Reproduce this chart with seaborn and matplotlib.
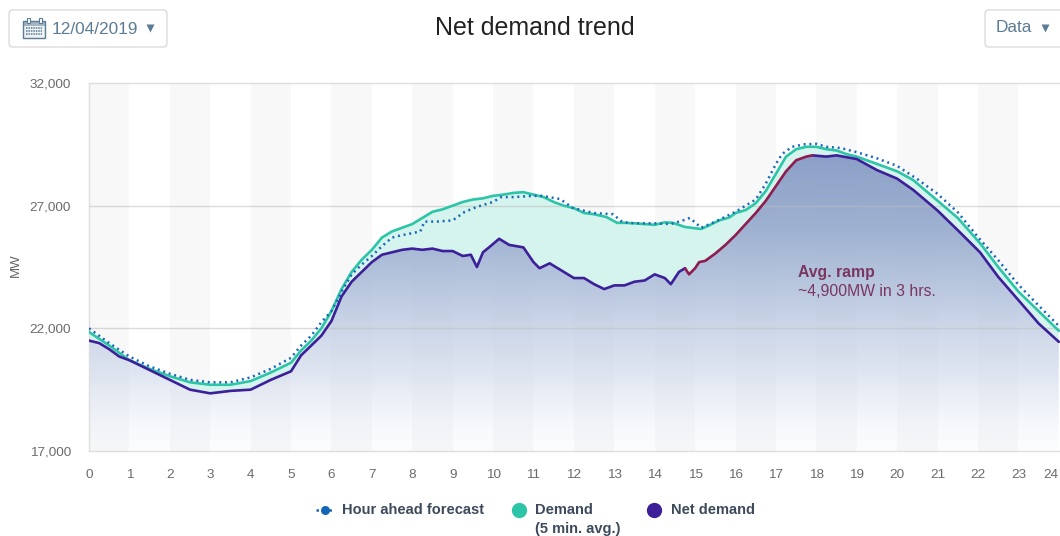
import numpy as np
import matplotlib
matplotlib.use("Agg")
import matplotlib.pyplot as plt
import seaborn as sns
from matplotlib.colors import LinearSegmentedColormap
from matplotlib.lines import Line2D
from matplotlib.patches import FancyBboxPatch, Polygon, Rectangle

date_label = "12/04/2019"
title = "Net demand trend"
hours = list(range(25))
y_ticks = [17000, 22000, 27000, 32000]

demand_x = [0,.5,1,1.5,2,2.5,3,3.5,4,4.5,5,5.25,5.5,5.75,6,6.25,6.5,6.75,7,7.25,7.5,7.75,8,8.25,8.5,8.75,9,9.25,9.5,9.75,10,10.25,10.5,10.75,11,11.25,11.5,11.75,12,12.25,12.5,12.8,13.07,13.25,13.5,13.75,14,14.25,14.45,14.75,15.15,15.35,15.6,15.85,16,16.25,16.5,16.75,17,17.25,17.5,17.75,18,18.25,18.5,18.75,19,19.5,20,20.4,21,21.5,22.05,22.5,23,23.5,24]
demand_y = [21850,21300,20700,20350,20050,19800,19700,19700,19850,20200,20600,21100,21500,22000,22700,23600,24300,24800,25200,25700,25950,26100,26250,26500,26750,26850,27000,27150,27250,27300,27400,27450,27520,27550,27450,27350,27150,27000,26900,26700,26650,26540,26300,26300,26280,26250,26220,26320,26300,26130,26050,26200,26400,26520,26700,26820,27100,27600,28300,29000,29300,29400,29400,29300,29250,29100,29000,28700,28400,28040,27200,26500,25470,24500,23500,22700,21900]

forecast_x = [0,.5,1,1.5,2,2.5,3,3.5,4,4.5,5,5.25,5.5,5.75,6,6.25,6.5,6.75,7,7.25,7.5,7.75,8,8.2,8.3,8.6,9,9.3,9.6,10,10.2,10.5,11,11.2,11.66,11.98,12.5,12.97,13.2,13.5,14,14.4,14.7,14.87,15.15,15.5,16,16.5,16.75,17,17.15,17.4,17.7,18,18.25,18.6,19,19.5,20,20.5,21,21.5,22,22.5,23,23.5,24]
forecast_y = [22000,21400,20850,20450,20150,19900,19800,19800,20000,20350,20800,21300,21700,22250,22700,23500,24200,24600,24950,25350,25700,25800,25880,25950,26350,26350,26400,26750,26950,27150,27350,27350,27400,27400,27270,26900,26700,26650,26330,26280,26280,26250,26400,26500,26100,26350,26750,27250,27900,28700,29100,29400,29500,29520,29400,29350,29180,28930,28620,28080,27480,26730,25720,24780,23780,22930,22100]

net_x = [0,.25,.5,.75,1,1.5,2,2.5,3,3.5,4,4.25,4.5,5,5.25,5.5,5.75,6,6.25,6.5,6.75,7,7.25,7.5,7.75,8,8.25,8.5,8.75,9,9.25,9.45,9.6,9.75,9.9,10.15,10.4,10.75,11,11.15,11.4,11.75,12,12.25,12.5,12.75,13,13.25,13.5,13.75,14,14.25,14.4,14.6,14.75]
net_y = [21500,21400,21150,20850,20700,20300,19900,19500,19350,19450,19500,19700,19900,20250,20900,21300,21700,22300,23300,23900,24300,24700,25000,25100,25200,25250,25200,25250,25150,25150,24950,25000,24500,25100,25300,25650,25400,25300,24700,24450,24650,24300,24050,24050,23800,23600,23750,23750,23900,23950,24200,24050,23800,24300,24450]

ramp_x = [14.75,14.85,15,15.1,15.25,15.5,15.75,16,16.25,16.5,16.75,17,17.25,17.5,17.75,17.9]
ramp_y = [24450,24200,24450,24700,24750,25050,25400,25800,26250,26700,27200,27800,28400,28850,29000,29050]

tail_x = [17.9,18.25,18.5,19,19.5,20,20.4,21,21.5,22.05,22.5,23,23.5,24]
tail_y = [29050,29000,29050,28900,28450,28100,27640,26800,26000,25100,24100,23150,22200,21450]

W, H = 1060, 536
sns.set_theme(style="white")
plt.rcParams["font.family"] = ["Liberation Sans", "DejaVu Sans"]

fig = plt.figure(figsize=(W / 100, H / 100), dpi=100)
ax = fig.add_axes([89 / W, 1 - 451 / H, (1060 - 89) / W, (451 - 83) / H])
ax.set_xlim(0, 24.03)
ax.set_ylim(17000, 32000)

def fx(x):
    return x / W

def fy(y):
    return 1 - y / H

# alternate hour bands
for h in hours[:-1:2]:
    ax.axvspan(h, h + 1, color="#f8f8f8", lw=0, zorder=0)

# band between demand and net demand
net_all_x = net_x + ramp_x[1:] + tail_x[1:]
net_all_y = net_y + ramp_y[1:] + tail_y[1:]
between = np.column_stack([demand_x + net_all_x[::-1], demand_y + net_all_y[::-1]])
ax.add_patch(Polygon(between, closed=True, fc="#d5f4ed", ec="none", zorder=1))

# gradient under the net demand line
cmap = LinearSegmentedColormap.from_list(
    "net", [(0.54, 0.62, 0.78, 0.98), (0.60, 0.68, 0.81, 0.95), (0.71, 0.77, 0.87, 0.85), (0.81, 0.85, 0.92, 0.62), (0.91, 0.93, 0.97, 0.12)])
im = ax.imshow(np.linspace(0, 1, 256)[:, None], extent=[0, 24.03, 17000, 29100], origin="upper",
               aspect="auto", cmap=cmap, zorder=2)
under = Polygon(np.column_stack([net_all_x + [24, 0], net_all_y + [17000, 17000]]), closed=True,
                transform=ax.transData, fc="none", ec="none")
ax.add_patch(under)
im.set_clip_path(under)
ax.set_xlim(0, 24.03)
ax.set_ylim(17000, 32000)

for yv in y_ticks[1:3]:
    ax.axhline(yv, color="#bdbdbd", lw=1, alpha=0.55, zorder=3)

line_kw = dict(ax=ax, estimator=None, sort=False, legend=False)
sns.lineplot(x=demand_x, y=demand_y, color="#2cc5a8", lw=1.9, zorder=4, **line_kw)
sns.lineplot(x=forecast_x, y=forecast_y, color="#1b68b8", lw=1.8, linestyle=(0, (0.8, 1.5)), zorder=5, **line_kw)
sns.lineplot(x=net_x, y=net_y, color="#3d1f99", lw=1.9, zorder=6, **line_kw)
sns.lineplot(x=tail_x, y=tail_y, color="#3d1f99", lw=1.9, zorder=6, **line_kw)
sns.lineplot(x=ramp_x, y=ramp_y, color="#8e1c4f", lw=1.9, zorder=6, **line_kw)

ax.set_xticks(hours)
ax.set_yticks(y_ticks)
ax.set_yticklabels([f"{v:,}" for v in y_ticks])
ax.tick_params(axis="both", length=0, labelsize=9.7, labelcolor="#6b6b6b")
ax.tick_params(axis="x", pad=13)
ax.tick_params(axis="y", pad=13)
ax.get_xticklabels()[-1].set_ha("right")
for side in ax.spines:
    ax.spines[side].set_color("#dedede")
    ax.spines[side].set_linewidth(1)
ax.spines["right"].set_visible(False)
ax.set_ylabel("")
ax.set_xlabel("")

fig.text(fx(16), fy(265), "MW", rotation=90, ha="center", va="center", fontsize=9.5, color="#666666")
fig.text(fx(535), fy(28), title, ha="center", va="center", fontsize=18, color="#222222")

ax.text(17.54, 24290, "Avg. ramp", fontsize=11.3, fontweight="bold", color="#7a3560", va="center", zorder=7)
ax.text(17.54, 23510, "~4,900MW in 3 hrs.", fontsize=11.3, color="#7a3560", va="center", zorder=7)

# top controls
overlay = fig.add_axes([0, 0, 1, 1], facecolor="none")
overlay.set_xlim(0, W)
overlay.set_ylim(H, 0)
overlay.axis("off")

for x0, x1 in [(9, 167), (985, 1075)]:
    overlay.add_patch(FancyBboxPatch((x0, 10), x1 - x0, 37, boxstyle="round,pad=0,rounding_size=4",
                                     fc="white", ec="#dcdcdc", lw=1))
ink = "#5b7c94"
overlay.add_patch(Rectangle((23, 21), 22, 17, fc="#eef2f5", ec=ink, lw=1))
overlay.add_patch(Rectangle((23, 21), 22, 4, fc=ink, ec=ink, lw=0.5, alpha=0.5))
overlay.add_patch(Rectangle((27, 18), 2.5, 5, fc="white", ec=ink, lw=0.8))
overlay.add_patch(Rectangle((39, 18), 2.5, 5, fc="white", ec=ink, lw=0.8))
for gy in (28, 31, 34):
    overlay.plot([26, 42], [gy, gy], color=ink, lw=1.1, ls=(0, (1, 0.6)))
overlay.text(52, 29, date_label, fontsize=12.4, color=ink, va="center", ha="left")
overlay.plot([150], [28], marker="v", ms=5.5, color=ink, mec="none")
overlay.text(996, 28, "Data", fontsize=12.4, color=ink, va="center", ha="left")
overlay.plot([1045], [28], marker="v", ms=5.5, color=ink, mec="none")

# legend row
txt = "#3c4a5c"
overlay.add_line(Line2D([316, 333], [510, 510], color="#1b68b8", lw=1.8, ls=(0, (1, 1.6))))
overlay.plot([325], [510], marker="o", ms=6.5, color="#1565b5", mec="none")
overlay.text(342, 510, "Hour ahead forecast", fontsize=10.5, fontweight="bold", color=txt, va="center")
overlay.plot([519], [510], marker="o", ms=11, color="#2cc5a8", mec="none")
overlay.text(535, 510, "Demand", fontsize=10.5, fontweight="bold", color=txt, va="center")
overlay.text(535, 529, "(5 min. avg.)", fontsize=10.5, fontweight="bold", color=txt, va="center")
overlay.plot([654], [510], marker="o", ms=11, color="#3d1f99", mec="none")
overlay.text(671, 510, "Net demand", fontsize=10.5, fontweight="bold", color=txt, va="center")

fig.savefig("out.png", dpi=100, facecolor="white")
